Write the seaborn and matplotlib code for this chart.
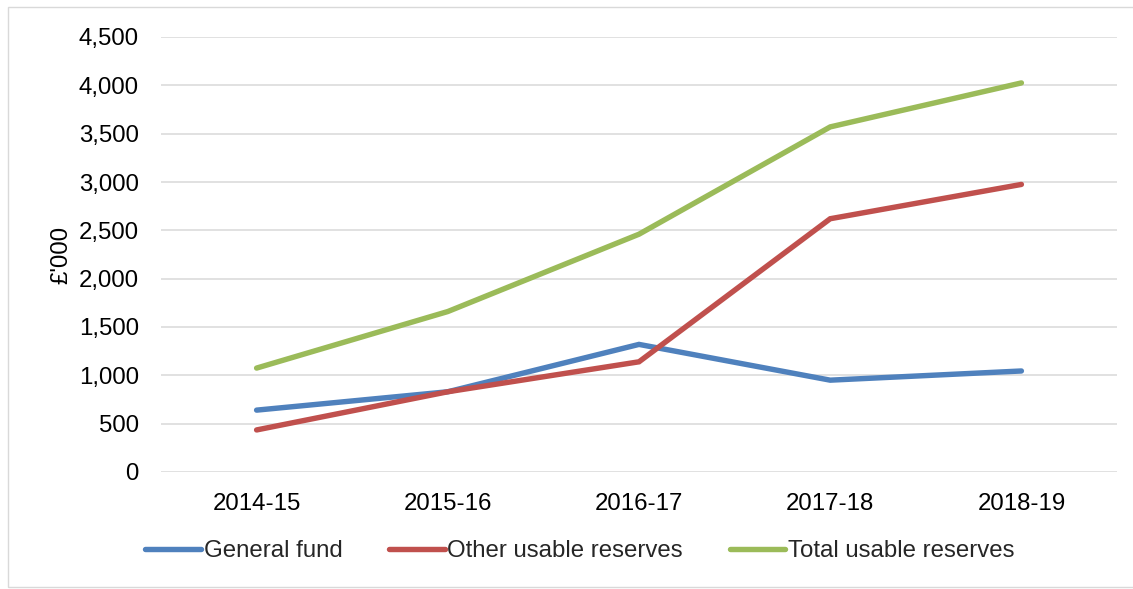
import matplotlib
matplotlib.use("Agg")
import matplotlib.pyplot as plt
import seaborn as sns
import pandas as pd
from matplotlib.patches import Rectangle
from matplotlib.ticker import FuncFormatter

years = ["2014-15", "2015-16", "2016-17", "2017-18", "2018-19"]
general_fund = [640, 830, 1320, 950, 1045]
other_usable = [435, 830, 1140, 2620, 2975]
total_usable = [1075, 1660, 2460, 3570, 4025]
series_names = ["General fund", "Other usable reserves", "Total usable reserves"]
colors = ["#4F81BD", "#C0504D", "#9BBB59"]

df = pd.DataFrame({
    "Year": years * 3,
    "Value": general_fund + other_usable + total_usable,
    "Series": [series_names[0]] * 5 + [series_names[1]] * 5 + [series_names[2]] * 5,
})

sns.set_theme(style="white")
plt.rcParams["font.family"] = ["Liberation Sans", "DejaVu Sans"]

W, H = 1133, 589
FS = 17.3
LW = 3.9
fig = plt.figure(figsize=(W / 100, H / 100), dpi=100)
ax = fig.add_axes([161 / W, (H - 472) / H, (1117 - 161) / W, (472 - 37) / H])

sns.lineplot(data=df, x="Year", y="Value", hue="Series", palette=colors,
             linewidth=LW, ax=ax, legend=False, sort=False,
             solid_capstyle="round", solid_joinstyle="miter")

ax.set_ylim(0, 4500)
ax.set_xlim(-0.5, 4.5)
ax.set_yticks(range(0, 4501, 500))
ax.yaxis.set_major_formatter(FuncFormatter(lambda v, p: f"{int(v):,}"))
ax.grid(axis="y", color="#d9d9d9", linewidth=1.1)
ax.grid(axis="x", visible=False)
ax.set_axisbelow(True)
for s in ax.spines.values():
    s.set_visible(False)
ax.tick_params(axis="y", length=0, pad=16, labelsize=FS, labelcolor="black")
ax.tick_params(axis="x", length=0, pad=15, labelsize=FS, labelcolor="black")
ax.set_xlabel("")
ax.set_ylabel("£'000", fontsize=FS, color="black")
ax.yaxis.set_label_coords((72 - 161) / (1117 - 161), 0.5)

handles = [plt.Line2D([], [], color=c, linewidth=LW, solid_capstyle="round") for c in colors]
fig.legend(handles, series_names, loc="center", bbox_to_anchor=(580 / W, (H - 551) / H),
           ncol=3, frameon=False, fontsize=FS, handlelength=2.3, handletextpad=0.12,
           columnspacing=1.95)

fig.patches.append(Rectangle((8 / W, 1 - 587 / H), 1.2, (587 - 7) / H,
                             transform=fig.transFigure, fill=False,
                             edgecolor="#d9d9d9", linewidth=1.0))

fig.savefig("out.png", dpi=100)
